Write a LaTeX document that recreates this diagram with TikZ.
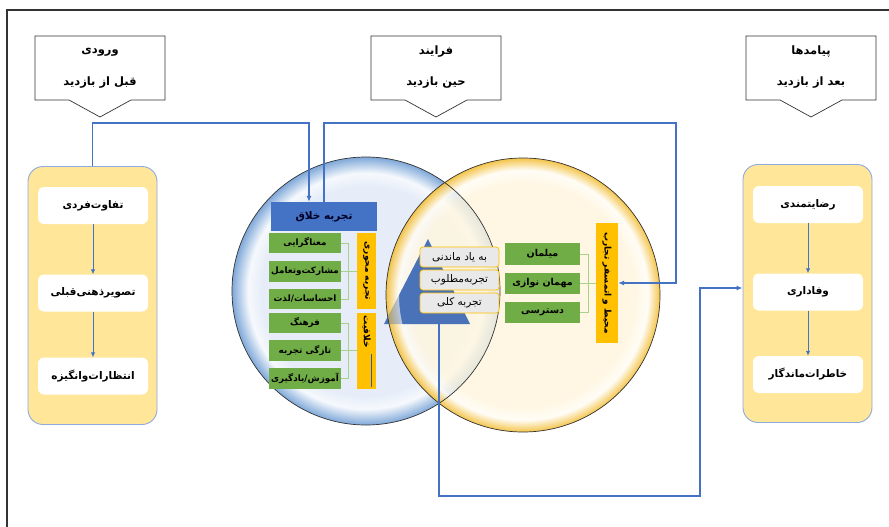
\documentclass[tikz,border=0pt]{standalone}
\usepackage{fontspec}
\TeXXeTstate=1
\newfontfamily\fa[Script=Arabic]{DejaVu Sans}
\usetikzlibrary{arrows.meta,calc}
\definecolor{frameC}{HTML}{333333}
\definecolor{connC}{HTML}{4472C4}
\definecolor{contFill}{HTML}{FFE699}
\definecolor{contDraw}{HTML}{8FAADC}
\definecolor{greenC}{HTML}{70AD47}
\definecolor{goldC}{HTML}{FFC000}
\definecolor{bracketC}{HTML}{A9D18E}
\definecolor{blueBox}{HTML}{4472C4}
\definecolor{grayBox}{HTML}{E9E9E9}
\definecolor{triC}{HTML}{4A72B8}
\definecolor{bcA}{HTML}{E6EDF8}
\definecolor{bcB}{HTML}{F6F9FD}
\definecolor{bcC}{HTML}{7FA8D8}
\definecolor{ycA}{HTML}{FFF6DE}
\definecolor{ycB}{HTML}{FFFDF6}
\definecolor{ycC}{HTML}{F4C03C}
\pgfdeclareradialshading{bluecirc}{\pgfpointorigin}{color(0bp)=(bcA); color(19.5bp)=(bcA); color(22bp)=(bcB); color(25bp)=(bcC); color(50bp)=(bcC)}
\pgfdeclareradialshading{yellowcirc}{\pgfpointorigin}{color(0bp)=(ycA); color(20.5bp)=(ycA); color(22.8bp)=(ycB); color(25bp)=(ycC); color(50bp)=(ycC)}
\newcommand{\fatxt}[1]{\beginR #1\endR}
\begin{document}
\begin{tikzpicture}[x=1pt,y=-1pt,
  conn/.style={draw=connC, line width=1.1pt},
  arr/.style={conn,-{Latex[length=6pt,width=5pt]}},
  callout/.style={draw=frameC, line width=0.7pt, fill=white},
  ctext/.style={font=\fa\bfseries\fontsize{11.5}{13}\selectfont, text=black, inner sep=0pt},
  container/.style={draw=contDraw, line width=0.9pt, fill=contFill, rounded corners=15pt, minimum width=129pt, minimum height=258pt, inner sep=0pt},
  item/.style={fill=white, rounded corners=6pt, minimum width=110pt, minimum height=37pt, inner sep=0pt, font=\fa\bfseries\fontsize{10.5}{12}\selectfont},
  gbox/.style={fill=greenC, minimum width=72pt, minimum height=20.5pt, inner sep=0pt, font=\fa\bfseries\fontsize{8.8}{10}\selectfont},
  rgbox/.style={fill=greenC, minimum width=75pt, minimum height=21.5pt, inner sep=0pt, font=\fa\bfseries\fontsize{9.5}{11}\selectfont},
  goldbar/.style={fill=goldC, inner sep=0pt},
  gtext/.style={font=\fa\bfseries\fontsize{9}{10}\selectfont, rotate=-90, inner sep=0pt},
  tbox/.style={fill=grayBox, draw=goldC, line width=0.7pt, rounded corners=3pt, minimum width=79pt, minimum height=20pt, inner sep=0pt, font=\fa\fontsize{10.5}{11}\selectfont},
  bracket/.style={draw=bracketC, line width=0.9pt},
  small/.style={conn,line width=0.9pt,-{Latex[length=5pt,width=4.5pt]}}
]
\fill[white] (0,0) rectangle (889,527);
\useasboundingbox (0,0) rectangle (889,527);
% frame
\draw[frameC, line width=1.2pt] (7,527) -- (7,10) -- (889,10);

% callouts
\draw[callout] (35,36) -- (165,36) -- (165,100) -- (131,100) -- (100,117) -- (69,100) -- (35,100) -- cycle;
\node[ctext] (in1) at (100,52) {\fa\fatxt{ورودی}};
\node[ctext] (in2) at (100,83) {\fa\fatxt{قبل از بازدید}};
\draw[callout] (371,36) -- (501,36) -- (501,100) -- (467,100) -- (436,117) -- (405,100) -- (371,100) -- cycle;
\node[ctext] (pr1) at (436,52) {\fa\fatxt{فرایند}};
\node[ctext] (pr2) at (436,83) {\fa\fatxt{حین بازدید}};
\draw[callout] (746,36) -- (876,36) -- (876,100) -- (842,100) -- (811,117) -- (780,100) -- (746,100) -- cycle;
\node[ctext] (ou1) at (811,52) {\fa\fatxt{پیامدها}};
\node[ctext] (ou2) at (811,83) {\fa\fatxt{بعد از بازدید}};

% containers
\node[container] (L) at (92.5,295.5) {};
\node[item] (l1) at (93,205.5) {\fa\fatxt{تفاوت‌فردی}};
\node[item] (l2) at (93,293) {\fa\fatxt{تصویرذهنی‌قبلی}};
\node[item] (l3) at (93,376) {\fa\fatxt{انتظارات‌وانگیزه}};
\draw[small] (l1) -- (l2);
\draw[small] (l2) -- (l3);

\node[container] (R) at (807.5,293.5) {};
\node[item] (r1) at (808,204.5) {\fa\fatxt{رضایتمندی}};
\node[item] (r2) at (808,292) {\fa\fatxt{وفاداری}};
\node[item] (r3) at (808,374.5) {\fa\fatxt{خاطرات‌ماندگار}};
\draw[small] (r1) -- (r2);
\draw[small] (r2) -- (r3);

% circles
\shade[shading=bluecirc] (366,291) circle (134pt);
\shade[shading=yellowcirc, opacity=0.8] (523,295) circle (137pt);

% triangle under the yellow rim
\fill[triC] (428,239) -- (384,324) -- (470,324) -- cycle;
\coordinate (triB) at (439,324);
\begin{scope}[even odd rule]
  \clip (523,295) circle (137pt) (523,295) circle (124pt);
  \shade[shading=yellowcirc, opacity=0.6] (523,295) circle (137pt);
\end{scope}
\draw[black!80, line width=0.7pt] (366,291) circle (134pt);
\draw[black!80, line width=0.7pt] (523,295) circle (137pt);

% left cluster
\node[fill=blueBox, minimum width=106pt, minimum height=29pt, inner sep=0pt, font=\fa\bfseries\fontsize{10.5}{12}\selectfont, text=black!85!blue] (creative) at (324,216.5) {\fatxt{تجربه خلاق}};
\node[gbox] (g1) at (305,243) {\fatxt{معناگرایی}};
\node[gbox] (g2) at (305,271.5) {\fatxt{مشارکت‌وتعامل}};
\node[gbox] (g3) at (305,299) {\fatxt{احساسات/لذت}};
\node[gbox] (g4) at (305,323) {\fatxt{فرهنگ}};
\node[gbox] (g5) at (305,350.5) {\fatxt{تازگی تجربه}};
\node[gbox] (g6) at (305,378.5) {\fatxt{آموزش/یادگیری}};
\node[goldbar, minimum width=19pt, minimum height=76pt] (gb1) at (366.5,271) {};
\node[gtext] (gb1t) at (gb1) {\fa\fatxt{تجربه محوری}};
\node[goldbar, minimum width=19pt, minimum height=76pt] (gb2) at (366.5,351) {};
\node[gtext] (gb2t) at (366.5,332) {\fa\fatxt{خلاقیت}};
\draw[draw=connC!80!black, line width=0.8pt] (371,354) -- (371,387);
\draw[bracket] (g1.east) -- (348,243) -- (348,299) -- (g3.east);
\draw[bracket] (g2.east) -- (g2.east -| gb1.west);
\draw[bracket] (g4.east) -- (348,323) -- (348,378.5) -- (g6.east);
\draw[bracket] (g5.east) -- (g5.east -| gb2.west);

% center boxes
\node[tbox] (t1) at (459.5,257) {\fatxt{به یاد ماندنی}};
\node[tbox] (t2) at (459.5,280) {\fatxt{تجربه‌مطلوب}};
\node[tbox] (t3) at (459.5,303) {\fatxt{تجربه کلی}};

% right cluster
\node[rgbox] (m1) at (542.5,254) {\fatxt{میلمان}};
\node[rgbox] (m2) at (542.5,283.5) {\fatxt{مهمان نوازی}};
\node[rgbox] (m3) at (542.5,312.5) {\fatxt{دسترسی}};
\node[goldbar, minimum width=22pt, minimum height=120pt] (amb) at (607,283) {};
\node[gtext] (ambt) at (amb) {\fa\fatxt{محیط و اتمسفر تجارب}};
\draw[bracket] (m1.east) -- (588,254) -- (588,312.5) -- (m3.east);
\draw[bracket] (m2.east) -- (m2.east -| amb.west);

% connectors
\coordinate (c1a) at (309,123);
\coordinate (c2a) at (676,123);
\coordinate (c3a) at (439,496);
\coordinate (c3b) at (700,496);
\draw[arr] (L.north) |- (c1a) -- (c1a |- creative.north);
\draw[arr] (creative.north) |- (c2a) |- (amb.east);
\draw[arr] (triB) -- (c3a) -- (c3b) |- ([yshift=5.5pt]R.west);
\end{tikzpicture}
\end{document}
